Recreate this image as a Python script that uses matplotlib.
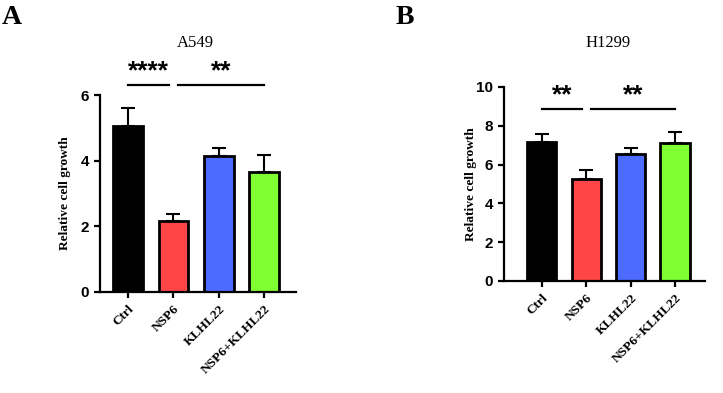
import matplotlib
matplotlib.use("Agg")
import matplotlib.pyplot as plt
import numpy as np

# data
groups = ["Ctrl", "NSP6", "KLHL22", "NSP6+KLHL22"]
colors = ["#000000", "#FF4545", "#4D6BFF", "#80FF33"]

a549_mean = [5.06, 2.16, 4.15, 3.65]
a549_err = [0.54, 0.21, 0.25, 0.52]

h1299_mean = [7.17, 5.25, 6.53, 7.12]
h1299_err = [0.38, 0.45, 0.30, 0.56]

# significance: (start, end, y, label)
a549_sig = [(0, 0.9, 6.3, "****"), (1.1, 3, 6.3, "**")]
h1299_sig = [(0, 0.9, 8.85, "**"), (1.1, 3, 8.85, "**")]

serif = "Liberation Serif"
sans = "Liberation Sans"


def draw(ax, mean, err, sig, ymax, yticks, xlim, label_x):
    x = np.arange(len(groups))
    ax.bar(x, mean, width=0.66, color=colors, edgecolor="black", linewidth=2.0, zorder=2)
    ax.errorbar(x, mean, yerr=[np.zeros(len(err)), err], fmt="none", ecolor="black",
                elinewidth=1.5, capsize=5, capthick=1.5, zorder=1)
    ax.set_ylim(0, ymax)
    ax.set_xlim(*xlim)
    ax.set_yticks(yticks)
    ax.set_yticklabels([str(t) for t in yticks], fontfamily=sans, fontweight="bold", fontsize=11)
    ax.set_xticks(x)
    ax.set_xticklabels(groups, rotation=45, ha="right", rotation_mode="anchor",
                       fontfamily=serif, fontweight="bold", fontsize=9.6)
    ax.spines["top"].set_visible(False)
    ax.spines["right"].set_visible(False)
    ax.spines["left"].set_linewidth(1.6)
    ax.spines["bottom"].set_linewidth(1.6)
    ax.tick_params(width=1.6, length=4.5, direction="out")
    ax.set_ylabel("Relative cell growth", fontfamily=serif, fontweight="bold", fontsize=9.6)
    ax.yaxis.set_label_coords(label_x, 0.5)
    for s, e, y, lab in sig:
        ax.plot([s, e], [y, y], color="black", linewidth=1.6, clip_on=False)
        ax.text((s + e) / 2, y + ymax * 0.008, lab, ha="center", va="bottom",
                fontfamily=sans, fontweight="bold", fontsize=19)


fig = plt.figure(figsize=(7.23, 3.93), dpi=100)
axA = fig.add_axes([0.1383, 0.257, 0.2711, 0.501])
axB = fig.add_axes([0.697, 0.285, 0.278, 0.494])

draw(axA, a549_mean, a549_err, a549_sig, 6, [0, 2, 4, 6], (-0.62, 3.7), -0.15)
draw(axB, h1299_mean, h1299_err, h1299_sig, 10, [0, 2, 4, 6, 8, 10], (-0.85, 3.67), -0.135)

fig.text(195 / 723, 1 - 43 / 393, "A549", ha="center", va="center", fontfamily=serif, fontsize=12)
fig.text(608 / 723, 1 - 43 / 393, "H1299", ha="center", va="center", fontfamily=serif, fontsize=12)
fig.text(2 / 723, 1 - 17 / 393, "A", ha="left", va="center", fontfamily=serif, fontweight="bold", fontsize=20)
fig.text(396 / 723, 1 - 17 / 393, "B", ha="left", va="center", fontfamily=serif, fontweight="bold", fontsize=20)

fig.savefig("out.png", dpi=100)
